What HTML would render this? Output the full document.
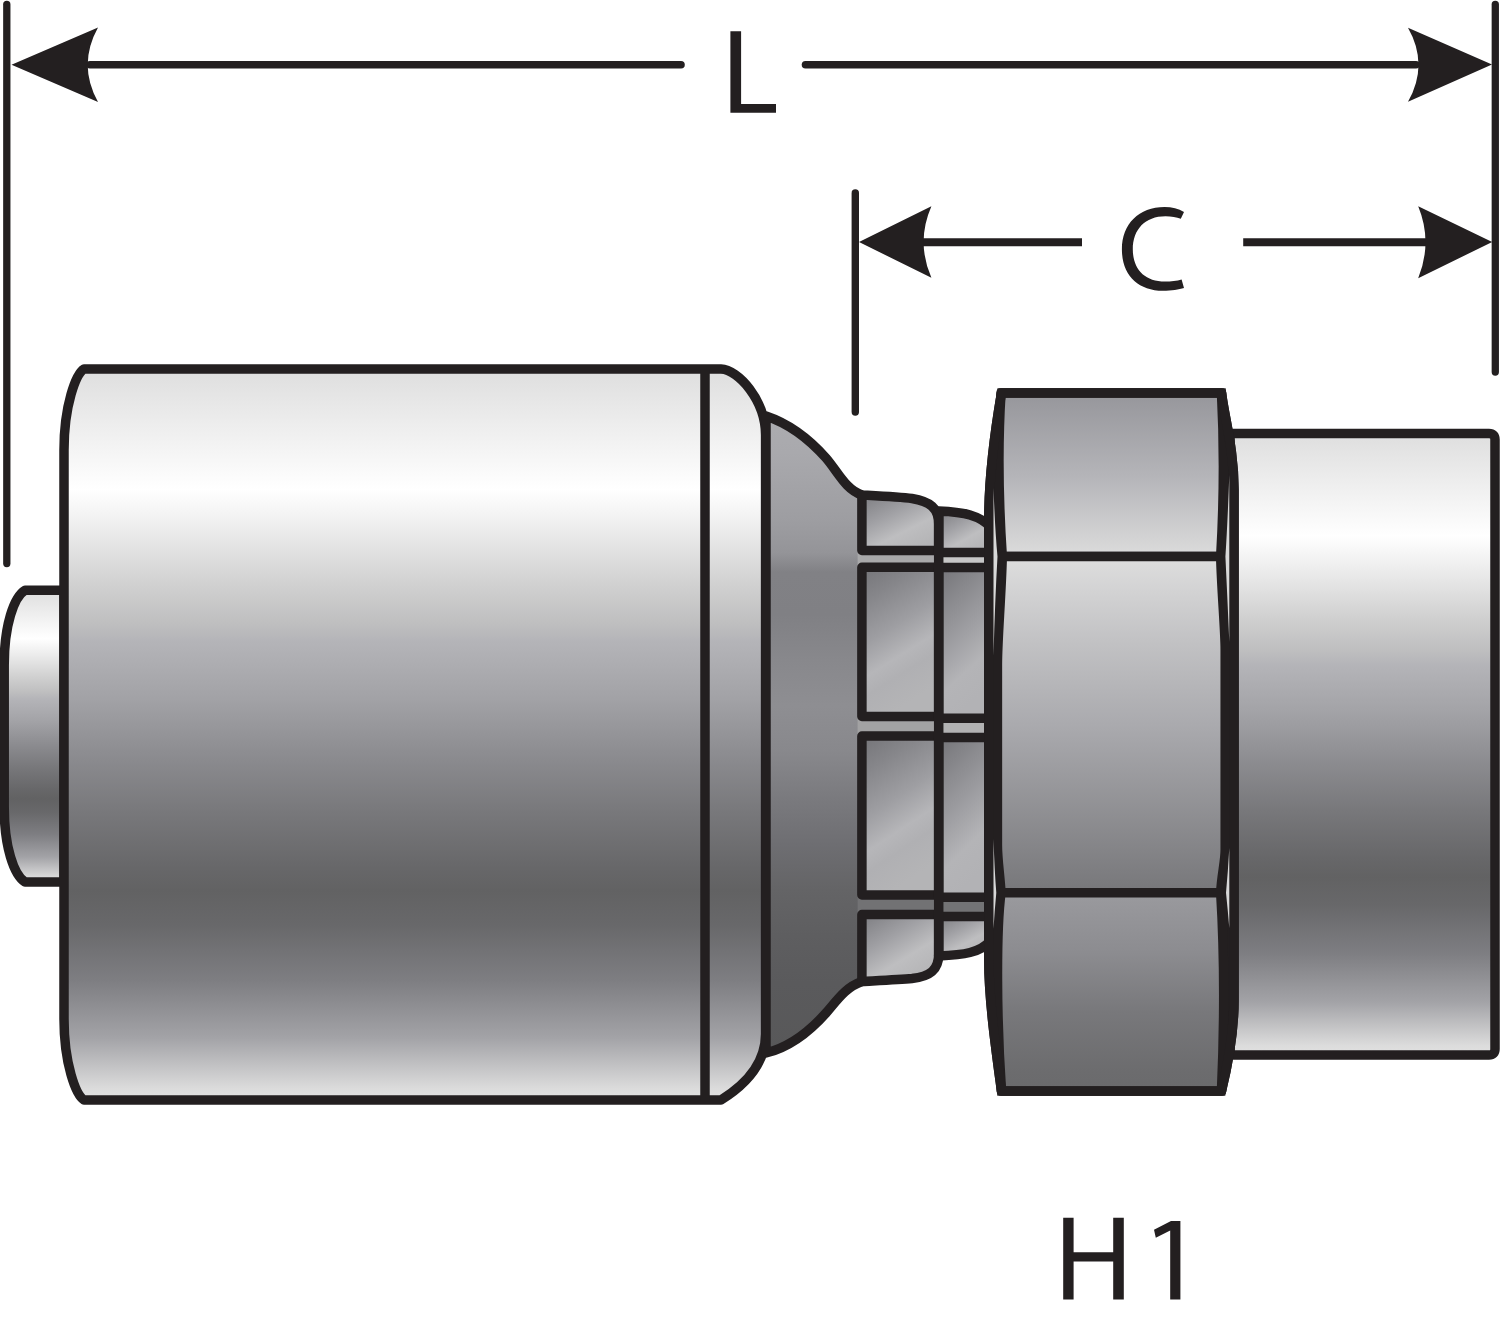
<!DOCTYPE html>
<html>
<head>
<meta charset="utf-8">
<title>H1 fitting</title>
<style>
html,body{margin:0;padding:0;background:#fff;}
body{width:1500px;height:1327px;overflow:hidden;font-family:"Liberation Sans",sans-serif;}
svg{display:block;}
</style>
</head>
<body>
<svg width="1500" height="1327" viewBox="0 0 1500 1327">
<defs>
  <!-- cylinder shading: top -> bottom -->
  <linearGradient id="cyl" x1="0" y1="0" x2="0" y2="1">
    <stop offset="0" stop-color="#dedede"/>
    <stop offset="0.165" stop-color="#ffffff"/>
    <stop offset="0.22" stop-color="#ececec"/>
    <stop offset="0.297" stop-color="#d0d0d0"/>
    <stop offset="0.35" stop-color="#bebebf"/>
    <stop offset="0.373" stop-color="#b4b4b8"/>
    <stop offset="0.451" stop-color="#a2a2a6"/>
    <stop offset="0.528" stop-color="#8c8c90"/>
    <stop offset="0.606" stop-color="#78787b"/>
    <stop offset="0.683" stop-color="#676769"/>
    <stop offset="0.714" stop-color="#626263"/>
    <stop offset="0.76" stop-color="#68686a"/>
    <stop offset="0.837" stop-color="#7e7e82"/>
    <stop offset="0.915" stop-color="#a3a3a7"/>
    <stop offset="0.985" stop-color="#dcdcdc"/>
    <stop offset="1" stop-color="#e2e2e2"/>
  </linearGradient>
  <linearGradient id="cone" x1="0" y1="416" x2="0" y2="1053" gradientUnits="userSpaceOnUse">
    <stop offset="0" stop-color="#acacb0"/>
    <stop offset="0.058" stop-color="#a9a9ad"/>
    <stop offset="0.166" stop-color="#9d9da1"/>
    <stop offset="0.215" stop-color="#949498"/>
    <stop offset="0.245" stop-color="#818185"/>
    <stop offset="0.311" stop-color="#808084"/>
    <stop offset="0.383" stop-color="#88888c"/>
    <stop offset="0.455" stop-color="#8e8e92"/>
    <stop offset="0.527" stop-color="#88888c"/>
    <stop offset="0.6" stop-color="#7a7a7e"/>
    <stop offset="0.672" stop-color="#6e6e72"/>
    <stop offset="0.744" stop-color="#646466"/>
    <stop offset="0.816" stop-color="#5e5e60"/>
    <stop offset="0.889" stop-color="#5a5a5c"/>
    <stop offset="1" stop-color="#585859"/>
  </linearGradient>
  <linearGradient id="nutTop" x1="0" y1="0" x2="0" y2="1">
    <stop offset="0" stop-color="#96969b"/>
    <stop offset="0.5" stop-color="#b4b4b8"/>
    <stop offset="1" stop-color="#dcdcdc"/>
  </linearGradient>
  <linearGradient id="nutMid" x1="0" y1="0" x2="0" y2="1">
    <stop offset="0" stop-color="#dedede"/>
    <stop offset="0.25" stop-color="#c2c2c4"/>
    <stop offset="0.5" stop-color="#aaaaae"/>
    <stop offset="1" stop-color="#77777a"/>
  </linearGradient>
  <linearGradient id="nutBot" x1="0" y1="0" x2="0" y2="1">
    <stop offset="0" stop-color="#9a9a9e"/>
    <stop offset="0.3" stop-color="#8c8c90"/>
    <stop offset="0.6" stop-color="#78787b"/>
    <stop offset="0.9" stop-color="#6c6c6e"/>
    <stop offset="1" stop-color="#6a6a6c"/>
  </linearGradient>
  <linearGradient id="cell" x1="0" y1="0" x2="0.32" y2="1">
    <stop offset="0" stop-color="#747478"/>
    <stop offset="0.22" stop-color="#86868a"/>
    <stop offset="0.48" stop-color="#9e9ea2"/>
    <stop offset="0.68" stop-color="#b6b6b9"/>
    <stop offset="0.8" stop-color="#b0b0b3"/>
    <stop offset="1" stop-color="#b4b4b6"/>
  </linearGradient>
  <linearGradient id="cell2" x1="0" y1="0" x2="0.32" y2="1">
    <stop offset="0" stop-color="#747478"/>
    <stop offset="0.25" stop-color="#88888c"/>
    <stop offset="0.55" stop-color="#a0a0a4"/>
    <stop offset="0.78" stop-color="#b4b4b7"/>
    <stop offset="1" stop-color="#b2b2b5"/>
  </linearGradient>
  <linearGradient id="cellS" x1="0" y1="0" x2="0.7" y2="1">
    <stop offset="0" stop-color="#7c7c80"/>
    <stop offset="0.4" stop-color="#a0a0a4"/>
    <stop offset="0.7" stop-color="#bebec0"/>
    <stop offset="1" stop-color="#b4b4b6"/>
  </linearGradient>
</defs>

<rect width="1500" height="1327" fill="#ffffff"/>

<g stroke="#231f20" stroke-width="9.5" stroke-linejoin="round" stroke-linecap="butt">

  <!-- hose stub (left) -->
  <path d="M64,590.3 L25,590.3 C14,597 4.2,625 4.2,665 L4.2,807 C4.2,847 14,875 25,882 L64,882 Z" fill="url(#cyl)"/>

  <!-- ferrule -->
  <path d="M84,369 L721,369 C738,369.5 765.6,400 765.6,435 L765.6,1034 C765.6,1060 750,1082 721,1100 L84,1100 C76,1095 64,1064 64,1019 L64,450 C64,405 76,374 84,369 Z" fill="url(#cyl)"/>
  <line x1="705" y1="369" x2="705" y2="1100" fill="none"/>

  <!-- stem cone fill (no stroke) extends under collar gaps -->
  <path d="M766,416 C790,424 810,440 826,458 C838,472 846,490 862,495 L870,495 L870,981.5 L862,981.5 C846,987 838,999 826,1013 C810,1031 790,1047 766,1053 Z" fill="url(#cone)" stroke="none"/>
  <!-- gaps between hex flats -->
  <g stroke="none">
    <rect x="857.6" y="548" width="82" height="22" fill="#a9a9aa"/>
    <rect x="857.6" y="714" width="82" height="25" fill="#a2a2a3"/>
    <rect x="857.6" y="893" width="82" height="24" fill="#727274"/>
    <rect x="938" y="549" width="50" height="22" fill="#c6c6c6"/>
    <rect x="938" y="716" width="50" height="24" fill="#b2b2b3"/>
    <rect x="938" y="895" width="50" height="24" fill="#737375"/>
  </g>
  <!-- cone outline: left vertical + top and bottom curves -->
  <path d="M862,495 C846,490 838,472 826,458 C810,440 790,424 766,416 L766,1053 C790,1047 810,1031 826,1013 C838,999 846,987 862,981.5" fill="none"/>

  <!-- collar cells col 1 -->
  <path d="M861.9,495 C880,496 900,497 912,498.5 C930,501.5 938.7,508 938.7,524 L938.7,550.5 L861.9,550.5 Z" fill="url(#cellS)"/>
  <path d="M861.9,567.3 L938.7,567.3 L938.7,716.4 L861.9,716.4 Z" fill="url(#cell)"/>
  <path d="M861.9,736.1 L938.7,736.1 L938.7,895 L861.9,895 Z" fill="url(#cell)"/>
  <path d="M861.9,914.5 L938.7,914.5 L938.7,954 C938.7,970 930,976.5 912,978.5 C900,979.5 880,980.5 861.9,981.5 Z" fill="url(#cellS)"/>
  <!-- collar cells col 2 -->
  <path d="M938.7,511 C950,511.5 962,512.5 970,515 C980,518 986,522 990,527 L990,552.4 L938.7,552.4 Z" fill="url(#cellS)"/>
  <path d="M938.7,567.6 L990,567.6 L990,718.3 L938.7,718.3 Z" fill="url(#cell2)"/>
  <path d="M938.7,737.5 L990,737.5 L990,897.2 L938.7,897.2 Z" fill="url(#cell2)"/>
  <path d="M938.7,916.4 L990,916.4 L990,941 C986,946 980,950 970,952.5 C962,954.5 950,955.5 938.7,956 Z" fill="url(#cellS)"/>
  <line x1="938.7" y1="511" x2="938.7" y2="956"/>

  <!-- right cylinder (male end) -->
  <path d="M1230,433.5 L1489,433.5 Q1495,433.5 1495,439.5 L1495,1049 Q1495,1055 1489,1055 L1230,1055 Z" fill="url(#cyl)"/>

  <!-- nut base -->
  <path d="M1001.5,393 L1221.5,393 C1225,420 1234,450 1234,490 L1234,1000 C1234,1030 1229,1060 1221.5,1091 L1001.5,1091 C996,1050 988.8,1000 988.8,960 L988.8,520 C988.8,470 996,425 1001.5,393 Z" fill="#231f20"/>
  <!-- nut faces -->
  <path d="M1001,393 L1221.5,393 C1224,440 1224,500 1220.7,556.6 L1002.3,556.6 C998.5,500 998,440 1001,393 Z" fill="url(#nutTop)"/>
  <path d="M1002.3,556.6 L1220.7,556.6 C1221.5,590 1225.2,630 1225.2,650 L1225.2,850 C1225.2,862 1221.5,875 1220.7,892.8 L1001,892.8 C1000,875 997.4,860 997.4,845 L997.4,665 C997.4,640 1001,600 1002.3,556.6 Z" fill="url(#nutMid)"/>
  <path d="M1001,892.8 L1220.7,892.8 C1223,930 1226,990 1221.5,1091 L1001.5,1091 C996.5,1020 996,930 1001,892.8 Z" fill="url(#nutBot)"/>
  <!-- nut outer silhouette on top -->
  <path d="M1001.5,393 L1221.5,393 C1225,420 1234,450 1234,490 L1234,1000 C1234,1030 1229,1060 1221.5,1091 L1001.5,1091 C996,1050 988.8,1000 988.8,960 L988.8,520 C988.8,470 996,425 1001.5,393 Z" fill="none" stroke-linejoin="miter"/>
  <!-- chamfer slivers -->
  <g stroke="none" fill="#d8d8d8">
    <path d="M993.5,488 Q995,530 997.5,556.6 Q995,600 993.5,656 Z"/>
    <path d="M993.5,839 Q994.5,870 996.3,892.8 Q994.5,912 993.5,929 Z"/>
    <path d="M1229.3,475 Q1227.5,525 1225.4,556.6 Q1227.5,600 1229.3,642 Z"/>
    <path d="M1229.3,848 Q1228,872 1226,892.8 Q1228,912 1229.3,928 Z"/>
  </g>
</g>

<!-- dimension lines -->
<g stroke="#231f20" fill="none" stroke-linecap="round">
  <line x1="6.8" y1="4.5" x2="6.8" y2="563.5" stroke-width="7.3"/>
  <line x1="1495.3" y1="4.5" x2="1495.3" y2="372" stroke-width="7.3"/>
  <line x1="855.3" y1="193" x2="855.3" y2="412" stroke-width="7.4"/>
  <line x1="90" y1="64.7" x2="681" y2="64.7" stroke-width="7.6"/>
  <line x1="805.5" y1="64.7" x2="1416" y2="64.7" stroke-width="7.6"/>
</g>
<g stroke="#231f20" fill="none" stroke-linecap="butt">
  <line x1="920" y1="242.2" x2="1082" y2="242.2" stroke-width="8"/>
  <line x1="1243.2" y1="242.2" x2="1429" y2="242.2" stroke-width="8"/>
</g>
<g fill="#231f20" stroke="none">
  <path d="M11.5,64.8 L98,27.5 Q77.4,64.8 98,102 Z"/>
  <path d="M1492,64.6 L1408,27.7 Q1429,64.6 1408,101.8 Z"/>
  <path d="M859,242 L931.4,206.2 Q915.8,242 931.4,277.8 Z"/>
  <path d="M1492.2,242 L1418.2,206.3 Q1432.8,242 1418.2,278.2 Z"/>
  <!-- L -->
  <path d="M730.4,31.2 L741.1,31.2 L741.1,104 L776,104 L776,112.8 L730.4,112.8 Z"/>
  <!-- H -->
  <path d="M1063.2,1217.8 L1073.6,1217.8 L1073.6,1252.2 L1113.2,1252.2 L1113.2,1217.8 L1123.8,1217.8 L1123.8,1299.4 L1113.2,1299.4 L1113.2,1261.4 L1073.6,1261.4 L1073.6,1299.4 L1063.2,1299.4 Z"/>
  <!-- 1 -->
  <path d="M1180.4,1221 L1171,1221 L1154,1229.8 L1155.8,1237.8 L1170.2,1230.6 L1170.2,1299.4 L1180.4,1299.4 Z"/>
</g>
<!-- C -->
<path fill="#231f20" d="M1184,211.9 C1178.5,209 1172,207.1 1164.5,207.1 C1139,207.1 1121.9,224 1121.9,249.4 C1121.9,275 1138,290.8 1163,290.8 C1171.5,290.8 1179,289.6 1184,288.1 L1181.6,279.6 C1177,281 1171,281.6 1165,281.6 C1144.5,281.6 1132.8,269 1132.8,249.2 C1132.8,229.5 1145,216.2 1165.5,216.2 C1171.5,216.2 1176.5,217 1180.8,218.8 Z"/>
</svg>
</body>
</html>
